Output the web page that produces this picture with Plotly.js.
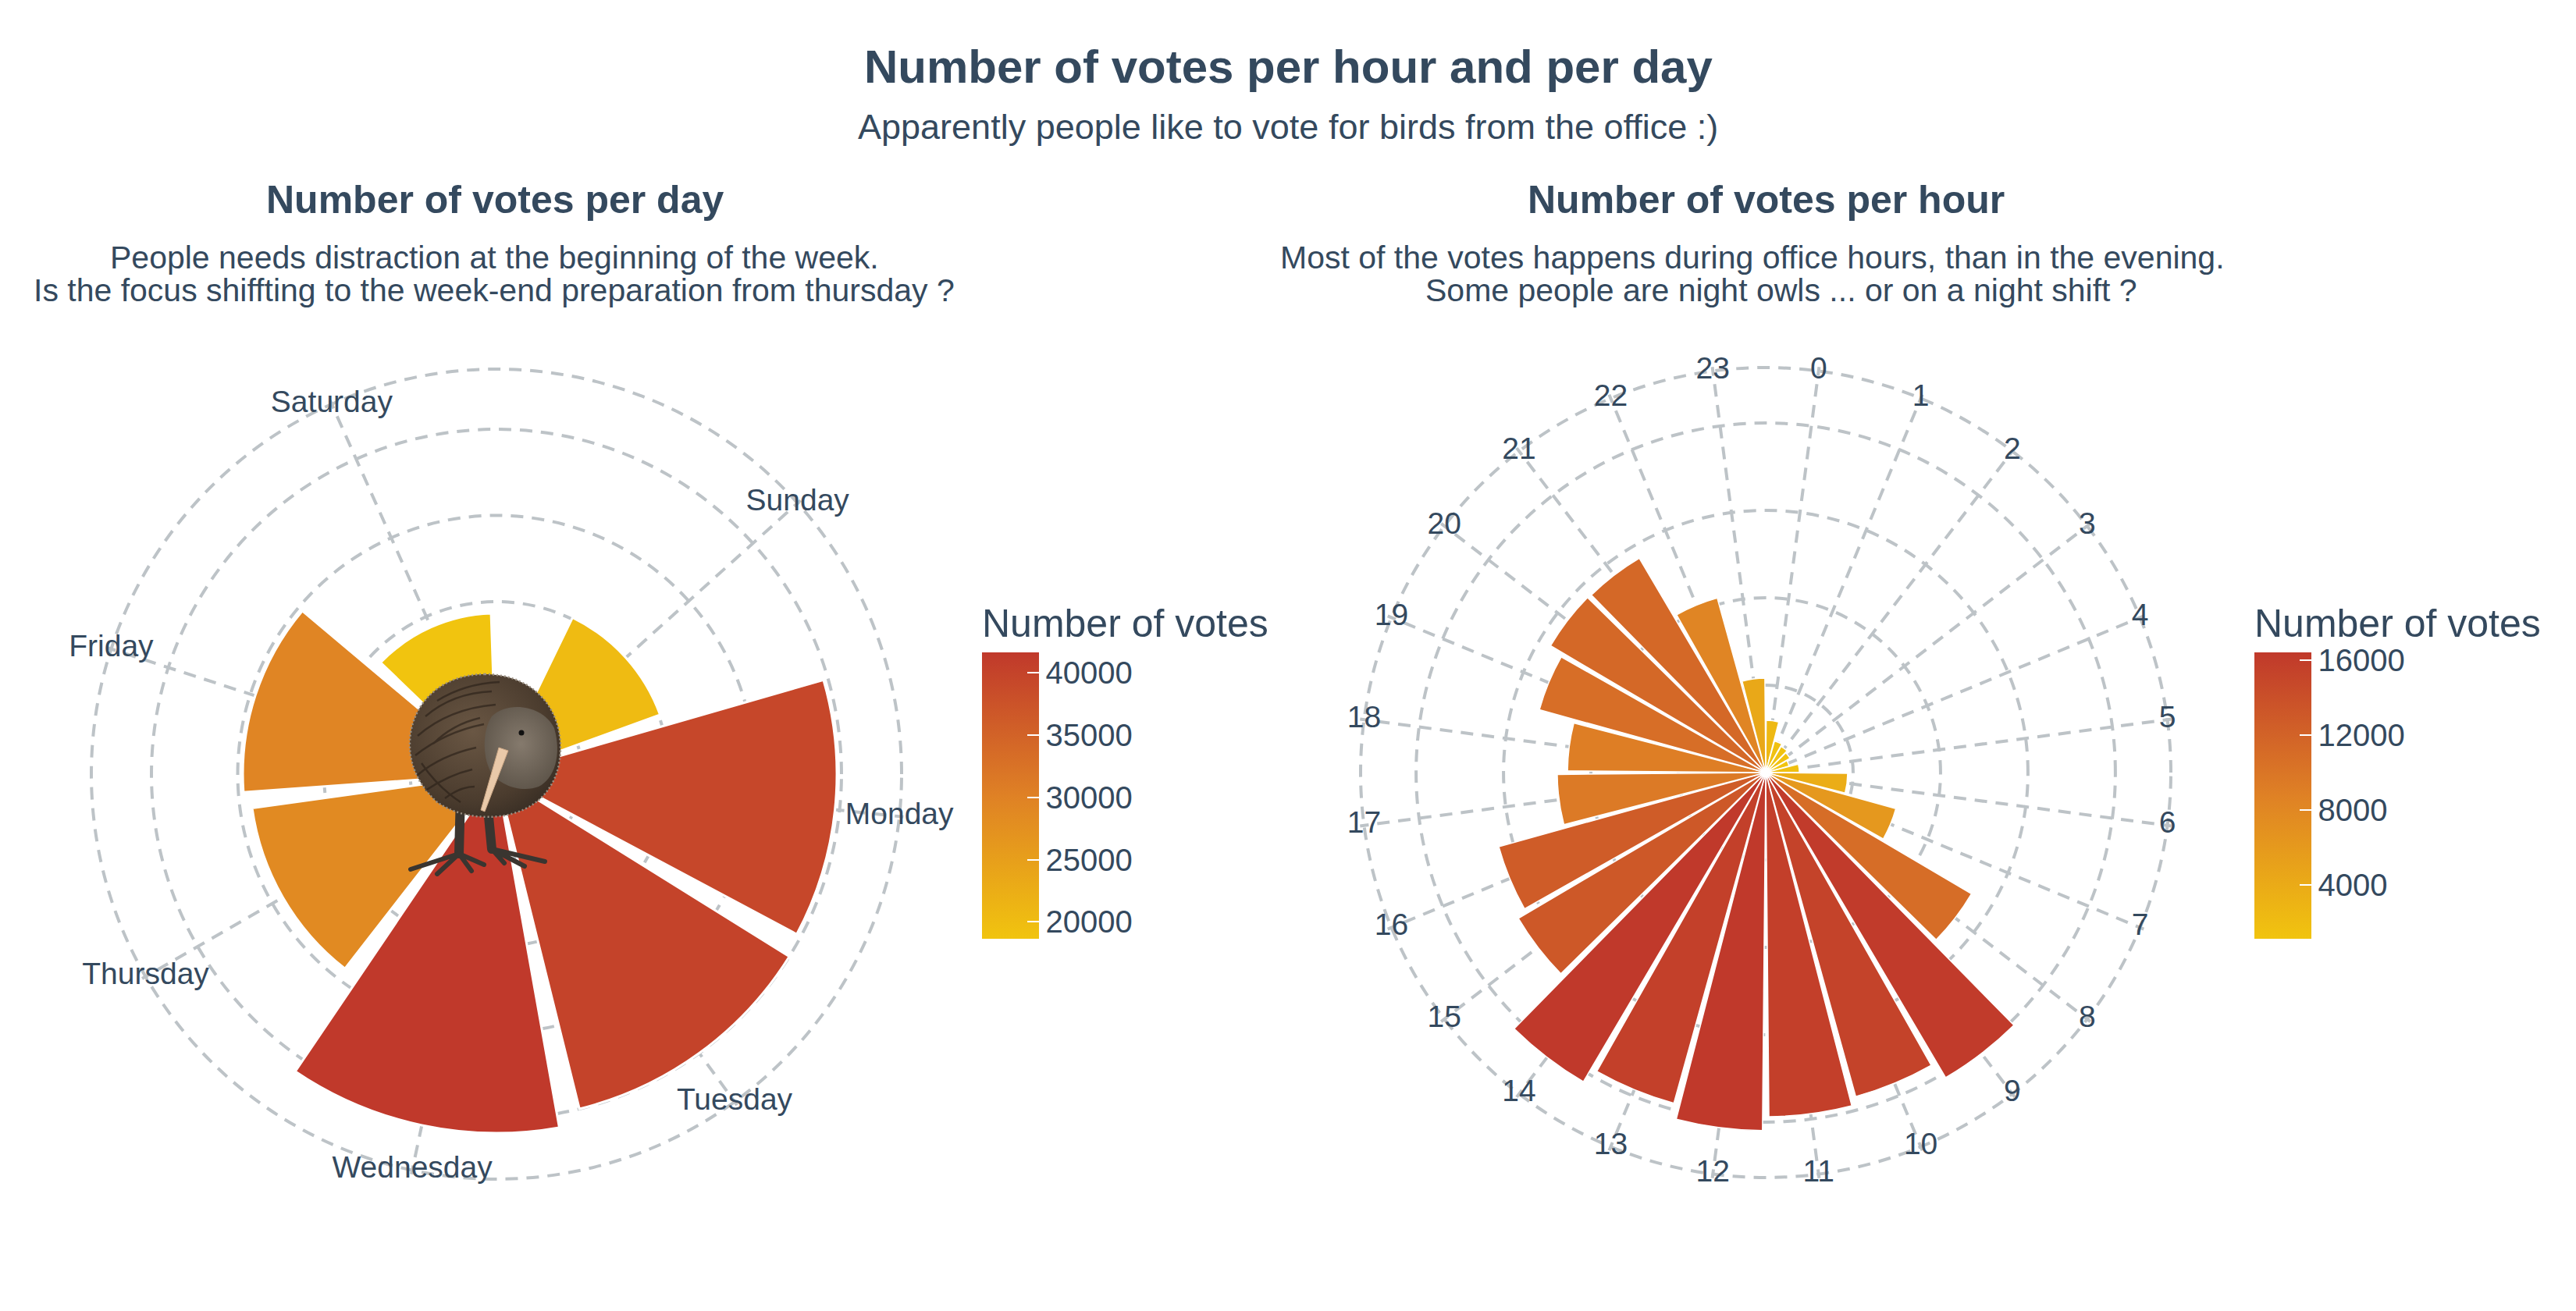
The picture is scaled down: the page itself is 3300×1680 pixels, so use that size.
<!DOCTYPE html>
<html>
<head>
<meta charset="utf-8">
<script src="https://cdn.plot.ly/plotly-3.0.1.min.js"></script>
<style>
  html, body { margin: 0; padding: 0; background: #fff; }
  #chart { width: 3300px; height: 1680px; }
</style>
</head>
<body>
<div id="chart"></div>
<script>
// Votes per day / per hour, two polar bar charts side by side.
const DAYS = ['Sunday', 'Monday', 'Tuesday', 'Wednesday', 'Thursday', 'Friday', 'Saturday'];
const DAY_VOTES = [20180, 39460, 40000, 41630, 28600, 29410, 18650];

const HOURS = [0, 1, 2, 3, 4, 5, 6, 7, 8, 9, 10, 11, 12, 13, 14, 15, 16, 17, 18, 19, 20, 21, 22, 23];
const HOUR_VOTES = [2390, 1500, 1390, 1290, 1110, 1540, 3750, 6180, 10930, 16210, 15390, 15750,
  16390, 15710, 16430, 13140, 12680, 9540, 9070, 10750, 11430, 11390, 8290, 4320];

const DAY_GRID = [10000, 20000, 30000, 40000];
const HOUR_GRID = [4000, 8000, 12000, 16000];
const DAY_CB_TICKS = [20000, 25000, 30000, 35000, 40000];
const HOUR_CB_TICKS = [4000, 8000, 12000, 16000];

// outer ring (where the theta labels sit), in data units
const DAY_OUTER = 46970;
const HOUR_OUTER = 18540;
const EDGE = 1.01; // radial range runs a bit past the outer ring so its circle is drawn

const C = { text: '#34495e', grid: '#bdc3c7' };
const FONT = '"Liberation Sans", Arial, Helvetica, sans-serif';
const SCALE = [[0, '#f1c40f'], [0.5, '#df8125'], [1, '#c0392b']];

// discrete days take 7.5 slots around the circle, hours take 24
const DAY_STEP = 360 / 7.5;
const dayTheta = DAYS.map((d, i) => (i + 1) * DAY_STEP);
const hourTheta = HOURS.map((h) => 7.5 + 15 * h);

const colorbar = (x, ticks) => ({
  x, xanchor: 'left', xpad: 0, y: 1 - 1203 / 1680, yanchor: 'bottom', ypad: 0,
  len: 428, lenmode: 'pixels', thickness: 73, outlinewidth: 0,
  tickmode: 'array', tickvals: ticks, tickformat: 'd',
  ticks: 'inside', ticklen: 15, tickwidth: 2, tickcolor: '#fff',
  tickfont: { family: FONT, size: 40, color: C.text },
  title: { text: 'Number of votes', side: 'top', font: { family: FONT, size: 50, color: C.text } },
});

const traces = [
  {
    type: 'barpolar', subplot: 'polar', r: DAY_VOTES, theta: dayTheta, width: DAY_STEP * 0.92,
    marker: { color: DAY_VOTES, colorscale: SCALE, line: { color: '#fff', width: 3 },
      showscale: true, colorbar: colorbar(1258 / 3300, DAY_CB_TICKS) },
    hovertemplate: '%{customdata}: %{r}<extra></extra>', customdata: DAYS,
  },
  {
    type: 'scatterpolar', subplot: 'polar', mode: 'text', cliponaxis: false,
    r: DAYS.map(() => DAY_OUTER), theta: dayTheta, text: DAYS,
    textfont: { family: FONT, size: 39, color: C.text }, hoverinfo: 'skip', showlegend: false,
  },
  {
    type: 'barpolar', subplot: 'polar2', r: HOUR_VOTES, theta: hourTheta, width: 15 * 0.93,
    marker: { color: HOUR_VOTES, colorscale: SCALE, line: { color: '#fff', width: 1.5 },
      showscale: true, colorbar: colorbar(2888 / 3300, HOUR_CB_TICKS) },
    hovertemplate: '%{customdata}h: %{r}<extra></extra>', customdata: HOURS,
  },
  {
    type: 'scatterpolar', subplot: 'polar2', mode: 'text', cliponaxis: false,
    r: HOURS.map(() => HOUR_OUTER), theta: hourTheta, text: HOURS.map(String),
    textfont: { family: FONT, size: 39, color: C.text }, hoverinfo: 'skip', showlegend: false,
  },
];

// centre + outer-ring radius in px -> polar domain in paper units
const domain = (cx, cy, rPx) => {
  const r = rPx * EDGE;
  return { x: [(cx - r) / 3300, (cx + r) / 3300], y: [1 - (cy + r) / 1680, 1 - (cy - r) / 1680] };
};

const polar = (dom, outer, grid, spokes) => ({
  domain: dom, bgcolor: 'rgba(0,0,0,0)',
  radialaxis: {
    range: [0, outer * EDGE], tickmode: 'array', tickvals: grid.concat([outer]),
    showticklabels: false, ticks: '', showline: false,
    gridcolor: C.grid, gridwidth: 4, griddash: '16px,11px',
  },
  angularaxis: {
    type: 'linear', thetaunit: 'degrees', rotation: 90, direction: 'clockwise',
    tickmode: 'array', tickvals: spokes, showticklabels: false, ticks: '', showline: false,
    gridcolor: C.grid, gridwidth: 4, griddash: '16px,11px',
  },
});

// hand-drawn kiwi sitting on the centre of the day chart
const kiwi = `<svg xmlns="http://www.w3.org/2000/svg" viewBox="0 0 202 265" width="202" height="265">
<defs>
<radialGradient id="b" cx="0.42" cy="0.4" r="0.65"><stop offset="0" stop-color="#6a5744"/><stop offset="0.75" stop-color="#4b3c2e"/><stop offset="1" stop-color="#3a2f25"/></radialGradient>
<radialGradient id="h" cx="0.5" cy="0.45" r="0.6"><stop offset="0" stop-color="#857a6d"/><stop offset="1" stop-color="#5d5449"/></radialGradient>
</defs>
<g stroke="#3a3530" stroke-linecap="round" fill="none">
<path d="M70 160 L68 236" stroke-width="12"/><path d="M104 168 L110 230" stroke-width="12"/>
<path d="M68 236 L6 256 M68 236 L40 262 M68 236 L100 250 M68 236 L84 258" stroke-width="6"/>
<path d="M110 230 L178 246 M110 230 L152 252 M110 230 L126 248" stroke-width="6"/>
</g>
<path d="M101 6 C160 6 198 46 198 100 C198 150 168 182 120 188 C80 192 55 180 40 170 C18 150 5 125 5 96 C5 44 45 6 101 6 Z"
 fill="url(#b)" stroke="#9a8f82" stroke-width="2.5" stroke-dasharray="2 3"/>
<g stroke="#2b2119" stroke-width="2.4" fill="none" opacity="0.65">
<path d="M25 60 Q60 30 110 28"/><path d="M15 85 Q55 50 115 45"/><path d="M12 110 Q50 80 100 70"/>
<path d="M15 135 Q45 110 90 100"/><path d="M25 155 Q55 135 85 128"/><path d="M40 40 Q75 18 120 16"/>
<path d="M20 120 Q40 150 70 170"/><path d="M35 95 Q60 70 95 62"/><path d="M50 165 Q70 150 88 150"/>
</g>
<path d="M110 60 C130 40 175 45 190 75 C200 110 190 140 170 150 C150 158 120 150 108 130 C98 110 98 78 110 60 Z" fill="url(#h)"/>
<circle cx="148" cy="81" r="3.5" fill="#111"/>
<path d="M119 100 L131 104 L101 182 L96 180 Z" fill="#e9c9a9" stroke="#c9a584" stroke-width="1"/>
</svg>`;

const ann = (text, xPx, yPx, size, bold) => ({
  text: bold ? `<b>${text}</b>` : text, x: xPx / 3300, y: 1 - yPx / 1680, xref: 'paper', yref: 'paper',
  xanchor: 'center', yanchor: 'middle', showarrow: false,
  font: { family: FONT, size, color: C.text },
});

const layout = {
  width: 3300, height: 1680, margin: { l: 0, r: 0, t: 0, b: 0 },
  paper_bgcolor: '#fff', showlegend: false, font: { family: FONT, color: C.text },
  polar: polar(domain(636, 992, 519), DAY_OUTER, DAY_GRID, dayTheta),
  polar2: polar(domain(2262, 990, 519), HOUR_OUTER, HOUR_GRID, hourTheta),
  annotations: [
    ann('Number of votes per hour and per day', 1650, 85, 60, true),
    ann('Apparently people like to vote for birds from the office :)', 1650, 163, 45, false),
    ann('Number of votes per day', 634, 256, 50, true),
    ann('People needs distraction at the beginning of the week.', 633, 330, 41, false),
    ann('Is the focus shiffting to the week-end preparation from thursday ?', 633, 372, 41, false),
    ann('Number of votes per hour', 2262, 256, 50, true),
    ann('Most of the votes happens during office hours, than in the evening.', 2245, 330, 41, false),
    ann('Some people are night owls ... or on a night shift ?', 2282, 372, 41, false),
  ],
  images: [{
    source: 'data:image/svg+xml;charset=utf-8,' + encodeURIComponent(kiwi),
    xref: 'paper', yref: 'paper', x: 520 / 3300, y: 1 - 858 / 1680,
    sizex: 202 / 3300, sizey: 265 / 1680, sizing: 'stretch', xanchor: 'left', yanchor: 'top', layer: 'above',
  }],
};

Plotly.newPlot('chart', traces, layout, { displayModeBar: false, staticPlot: true });
</script>
</body>
</html>
